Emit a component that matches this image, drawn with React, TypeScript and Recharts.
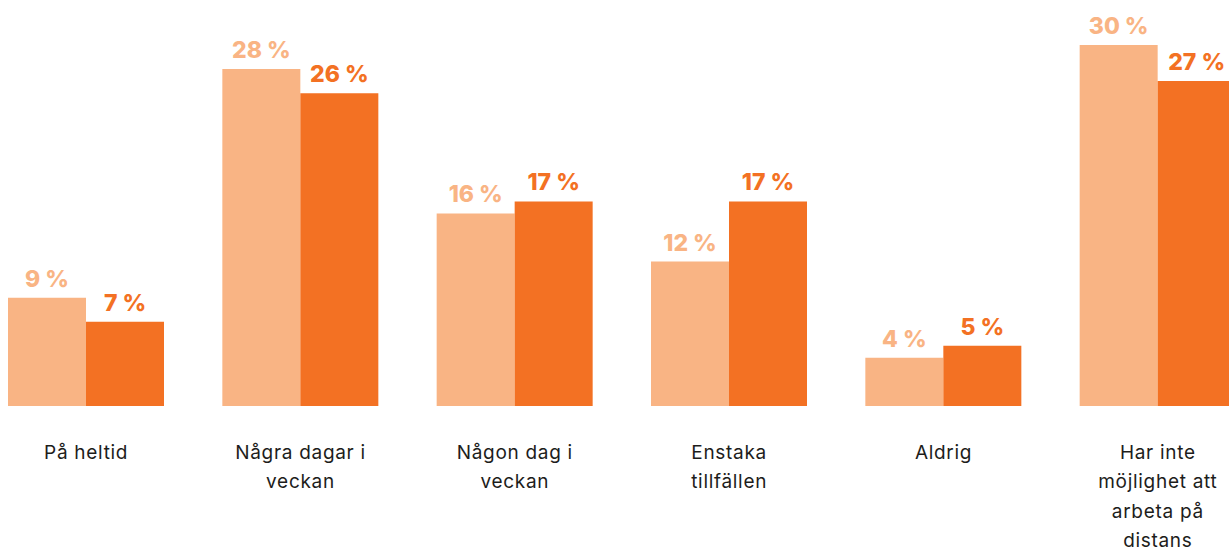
import React from "react";
import { BarChart, Bar, XAxis, YAxis, LabelList } from "recharts";

const categories = [
  "På heltid",
  "Några dagar i\nveckan",
  "Någon dag i\nveckan",
  "Enstaka\ntillfällen",
  "Aldrig",
  "Har inte\nmöjlighet att\narbeta på\ndistans",
];
const lightValues = [9, 28, 16, 12, 4, 30];
const darkValues = [7, 26, 17, 17, 5, 27];

const LIGHT = "#F9B484";
const DARK = "#F37123";
const FONT = "Inter, 'Noto Sans', sans-serif";

const data = categories.map((name, i) => ({
  name,
  light: lightValues[i],
  dark: darkValues[i],
}));

function CategoryTick(props: any) {
  const { x, y, payload } = props;
  const lines = String(payload.value).split("\n");
  return (
    <text
      x={x}
      y={y}
      textAnchor="middle"
      fill="#1d1d1b"
      fontFamily={FONT}
      fontSize={19}
      letterSpacing={0.7}
    >
      {lines.map((line, i) => (
        <tspan key={i} x={x} dy={i === 0 ? 52.5 : 29.5}>
          {line}
        </tspan>
      ))}
    </text>
  );
}

const pct = (v: any) => `${v} %`;

export default function App() {
  return (
    <div
      style={{
        position: "fixed",
        left: 0,
        top: 0,
        width: 1229,
        height: 547,
        overflow: "hidden",
        background: "#fff",
      }}
    >
      <div style={{ position: "absolute", left: -21, top: 0 }}>
        <BarChart
          width={1286}
          height={547}
          data={data}
          margin={{ top: 45, right: 0, bottom: 0, left: 0 }}
          barGap={0}
          barSize={78}
        >
          <XAxis
            dataKey="name"
            axisLine={false}
            tickLine={false}
            tickSize={0}
            tickMargin={0}
            interval={0}
            height={141}
            tick={<CategoryTick />}
          />
          <YAxis hide domain={[0, 30]} />
          <Bar dataKey="light" fill={LIGHT} isAnimationActive={false}>
            <LabelList
              dataKey="light"
              position="top"
              offset={11}
              formatter={pct}
              fill={LIGHT}
              fontFamily={FONT}
              fontWeight={800}
              fontSize={23}
            />
          </Bar>
          <Bar dataKey="dark" fill={DARK} isAnimationActive={false}>
            <LabelList
              dataKey="dark"
              position="top"
              offset={11}
              formatter={pct}
              fill={DARK}
              fontFamily={FONT}
              fontWeight={800}
              fontSize={23}
            />
          </Bar>
        </BarChart>
      </div>
    </div>
  );
}
